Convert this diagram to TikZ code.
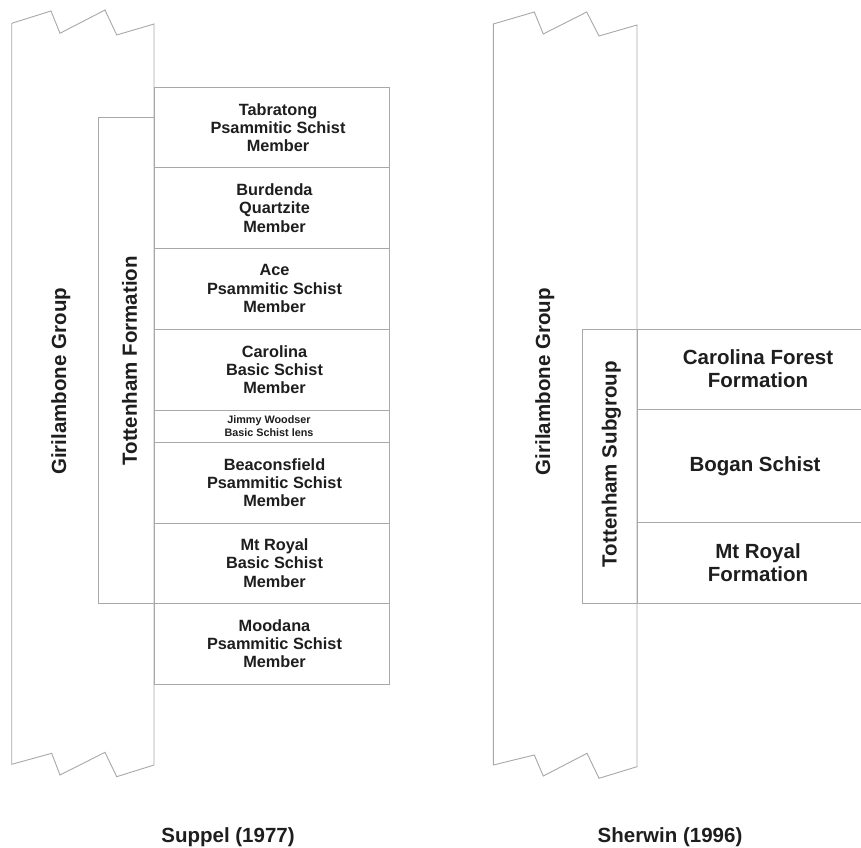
\documentclass[tikz,border=0pt]{standalone}
\usepackage{fontspec}
\setmainfont{Liberation Sans}
\definecolor{lineg}{HTML}{A8A8A8}
\definecolor{txtc}{HTML}{1E1E1E}
\begin{document}
\begin{tikzpicture}[x=1pt,y=1pt,
  line/.style={draw=lineg, line width=0.9pt, line join=miter},
  box/.style={draw=lineg, line width=0.9pt, inner sep=0pt, outer sep=0pt},
  lbox/.style={box, minimum width=235pt},
  rbox/.style={inner sep=0pt, outer sep=0pt, minimum width=224pt},
  ltxt/.style={text=txtc, font=\fontsize{16.3}{18.3}\selectfont\bfseries, align=center, inner sep=0pt},
  stxt/.style={text=txtc, font=\fontsize{10.8}{12.7}\selectfont\bfseries, align=center, inner sep=0pt},
  rtxt/.style={text=txtc, font=\fontsize{20.5}{23}\selectfont\bfseries, align=center, inner sep=0pt},
  vtxt/.style={text=txtc, font=\fontsize{20.5}{23}\selectfont\bfseries, rotate=90, anchor=base, inner sep=0pt},
  captxt/.style={text=txtc, font=\fontsize{20.5}{23}\selectfont\bfseries, anchor=base, inner sep=0pt}
]
\useasboundingbox (0,0) rectangle (861,847);
\fill[white] (0,0) rectangle (861,847);

% ---------- Left: Suppel (1977) ----------
\draw[line] (11.7,823.7) -- (51,836) -- (60,813.7) -- (105,837) -- (116.7,812) -- (154,823)
  -- (154,82) -- (116.7,70.3) -- (105,94.7) -- (60,72) -- (51.7,93.7) -- (11.7,82.7) -- cycle;
\node[vtxt] (gg1) at (66,465.7) {Girilambone Group};

\node[box, minimum width=55.7pt, minimum height=485.6pt] (tf) at (126.15,486.5) {};
\node[vtxt, anchor=center] (tft) at (129.5,486.2) {Tottenham Formation};

\node[lbox, minimum height=80.4pt] (tab) at (271.5,719.5) {};
\node[ltxt] (tabt) at (278,719.5) {Tabratong\\Psammitic Schist\\Member};
\node[lbox, minimum height=80.6pt] (bur) at (271.5,639) {};
\node[ltxt] (burt) at (274.5,639) {Burdenda\\Quartzite\\Member};
\node[lbox, minimum height=80.7pt] (ace) at (271.5,558.35) {};
\node[ltxt] (acet) at (274.5,558.35) {Ace\\Psammitic Schist\\Member};
\node[lbox, minimum height=81pt] (car) at (271.5,477.5) {};
\node[ltxt] (cart) at (274.5,477.5) {Carolina\\Basic Schist\\Member};
\node[lbox, minimum height=32.3pt] (jim) at (271.5,420.85) {};
\node[stxt] (jimt) at (269,420.85) {Jimmy Woodser\\Basic Schist lens};
\node[lbox, minimum height=80.7pt] (bea) at (271.5,364.35) {};
\node[ltxt] (beat) at (274.5,364.35) {Beaconsfield\\Psammitic Schist\\Member};
\node[lbox, minimum height=80.3pt] (mtr) at (271.5,283.85) {};
\node[ltxt] (mtrt) at (274.5,283.85) {Mt Royal\\Basic Schist\\Member};
\node[lbox, minimum height=80.7pt] (moo) at (271.5,203.35) {};
\node[ltxt] (moot) at (274.5,203.35) {Moodana\\Psammitic Schist\\Member};

\node[captxt] (cap1) at (228,5) {Suppel (1977)};

% ---------- Right: Sherwin (1996) ----------
\draw[line] (493.3,823) -- (534.3,835) -- (543.3,813) -- (586.7,835) -- (599,811) -- (637,822)
  -- (637,80.3) -- (599,68.7) -- (587,93.7) -- (543.3,71) -- (534.3,92) -- (493.3,82) -- cycle;
\node[vtxt] (gg2) at (550,465.3) {Girilambone Group};

\node[box, minimum width=54.3pt, minimum height=274.3pt] (ts) at (609.85,380.85) {};
\node[vtxt] (tst) at (616.7,382.8) {Tottenham Subgroup};

\node[rbox, minimum height=80.3pt] (cf) at (749,477.85) {};
\node[rbox, minimum height=113.4pt] (bog) at (749,381) {};
\node[rbox, minimum height=80.6pt] (rmr) at (749,284) {};
\foreach \b in {cf,bog,rmr}
  \draw[line] (\b.north east) -- (\b.north west) -- (\b.south west) -- (\b.south east);
\node[rtxt] (cft) at (758,477.85) {Carolina Forest\\Formation};
\node[rtxt] (bogt) at (755,381) {Bogan Schist};
\node[rtxt] (rmrt) at (758,284) {Mt Royal\\Formation};

\node[captxt] (cap2) at (670,5) {Sherwin (1996)};
\end{tikzpicture}
\end{document}
